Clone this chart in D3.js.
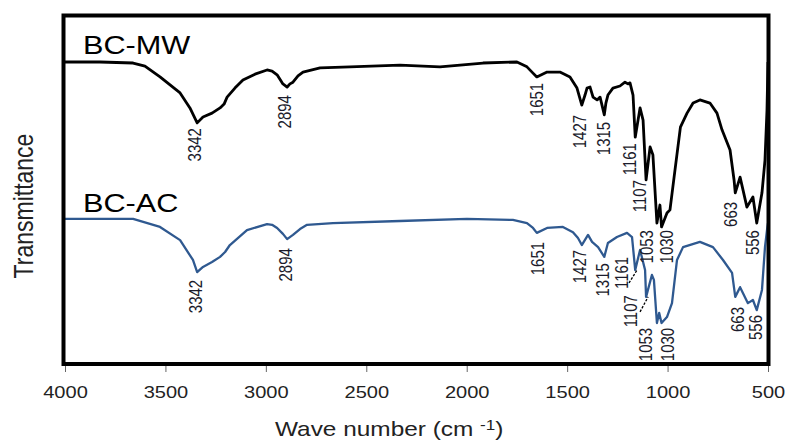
<!DOCTYPE html>
<html><head><meta charset="utf-8">
<script src="https://cdn.jsdelivr.net/npm/d3@7"></script>
<style>body{margin:0;background:#fff} svg{display:block}</style>
</head><body><svg id="c" width="787" height="441"></svg>
<script>
// ---------- data ----------
const seriesNames = ["BC-MW", "BC-AC"];
const xTicks = [4000, 3500, 3000, 2500, 2000, 1500, 1000, 500];
const peaks = [3342, 2894, 1651, 1427, 1315, 1161, 1107, 1053, 1030, 663, 556];

const mwWave = [4000,3826,3661,3602,3527,3427,3378,3342,3313,3268,3228,3208,3193,3154,3114,3054,2994,2969,2944,2915,2894,2880,2865,2840,2815,2730,2581,2332,2133,1919,1750,1700,1670,1651,1600,1536,1486,1451,1427,1411,1401,1386,1371,1351,1336,1315,1307,1297,1272,1237,1212,1197,1187,1172,1161,1137,1122,1107,1087,1073,1053,1038,1030,1003,988,963,936,903,873,839,789,754,729,689,669,663,639,605,575,556,530,515,505,500];
const mwT = [86.5,86.5,86.2,85.3,82.2,77.6,73.3,69.0,70.7,71.8,73.3,74.4,76.4,79.0,81.3,83.0,84.2,83.9,82.8,80.2,79.3,80.2,80.7,82.5,83.6,84.8,85.1,85.6,85.1,86.2,86.5,85.1,83.3,82.2,83.6,83.6,82.2,79.0,74.1,77.0,79.0,79.3,76.4,75.6,76.4,71.3,74.7,77.0,79.0,79.6,80.7,80.2,80.5,77.0,64.9,73.3,69.8,52.6,62.1,59.8,40.2,45.4,39.1,43.1,44.0,55.5,67.8,71.8,74.7,75.6,74.7,71.8,67.0,61.2,52.6,48.9,53.4,44.8,47.7,40.2,48.9,58.3,72.7,86.5];

const acWave = [4000,3661,3527,3427,3363,3342,3313,3268,3228,3203,3179,3094,2994,2969,2944,2915,2894,2865,2830,2795,2666,2332,1999,1770,1700,1670,1651,1600,1521,1471,1446,1427,1396,1376,1346,1315,1297,1252,1202,1177,1161,1137,1112,1107,1078,1068,1053,1042,1030,1003,978,953,923,839,774,724,679,663,639,600,575,556,530,515,503,500];
const acT = [41.4,41.4,39.1,35.3,29.6,26.1,27.6,29.0,30.5,31.9,33.9,38.2,39.9,39.7,38.8,37.1,35.6,36.8,38.5,39.7,40.2,40.8,41.4,41.1,40.2,38.8,37.4,38.8,39.1,37.6,35.9,33.9,36.8,34.8,33.3,30.5,34.5,36.2,37.4,36.2,26.7,32.5,26.7,19.0,25.3,23.9,11.5,14.4,11.5,13.2,17.2,29.6,33.3,34.8,33.3,29.6,25.9,19.0,21.8,17.2,18.1,15.2,21.0,33.3,39.1,40.2];

// ---------- layout ----------
const svg = d3.select("#c");
const SX = 1.18; // horizontal stretch of the text in the reference
const x = d3.scaleLinear().domain([4000, 500]).range([65, 768]);
const y = d3.scaleLinear().domain([0, 100]).range([363, 15]);
const font = "'Liberation Sans', Arial, sans-serif";

// annotation placement (label centre wave number, top of label in transmittance units)
const labelLayout = {
  "BC-MW": {cx: [3353,2905,1650,1436,1316,1187,1137,1102,1003,684,575],
            top: [67.5,77.0,80.5,71.3,69.3,63.2,52.6,38.2,38.2,46.3,38.2]},
  "BC-AC": {cx: [3348,2900,1645,1436,1321,1227,1182,1107,998,649,560],
            top: [23.9,33.0,34.8,32.5,28.7,30.5,19.5,10.1,10.1,16.1,13.8]}
};
const leaders = [[[1192,23.0],[1152,26.7]], [[1137,14.7],[1097,19.0]]];

const line = d3.line().x(d => x(d[0])).y(d => y(d[1]));
const mw = mwWave.map((w, i) => [w, mwT[i]]);
const ac = acWave.map((w, i) => [w, acT[i]]);

svg.append("path").datum(ac).attr("d", line).attr("fill", "none")
  .attr("stroke", "#2f5990").attr("stroke-width", 2.3).attr("stroke-linejoin", "round");
svg.append("path").datum(mw).attr("d", line).attr("fill", "none")
  .attr("stroke", "#000").attr("stroke-width", 2.8).attr("stroke-linejoin", "round");

// peak labels
seriesNames.forEach(name => {
  const L = labelLayout[name];
  peaks.forEach((p, i) => {
    const px = x(L.cx[i]) + 6.3, py = y(L.top[i]);
    svg.append("text")
      .attr("transform", `translate(${px},${py}) scale(${SX},1) rotate(-90)`)
      .attr("text-anchor", "end")
      .attr("font-family", font).attr("font-size", 15).attr("fill", "#1c1c2c")
      .text(p);
  });
});
leaders.forEach(s => {
  svg.append("line")
    .attr("x1", x(s[0][0])).attr("y1", y(s[0][1]))
    .attr("x2", x(s[1][0])).attr("y2", y(s[1][1]))
    .attr("stroke", "#000").attr("stroke-width", 1.3).attr("stroke-dasharray", "2.5,1.5");
});

// series names
[[seriesNames[0], 54], [seriesNames[1], 212]].forEach(([t, by]) => {
  svg.append("text")
    .attr("transform", `translate(83,${by}) scale(${SX},1)`)
    .attr("font-family", font).attr("font-size", 26).attr("fill", "#000")
    .text(t);
});

// x axis
const axis = d3.axisBottom(x).tickValues(xTicks).tickSize(8).tickPadding(0).tickFormat(d3.format("d"));
const gx = svg.append("g").attr("transform", "translate(0,364)").call(axis);
gx.select(".domain").remove();
gx.selectAll(".tick line").attr("stroke", "#666").attr("stroke-width", 1);
gx.selectAll(".tick text")
  .attr("y", null).attr("dy", null)
  .attr("transform", `translate(0,34) scale(${SX},1)`)
  .attr("font-family", font).attr("font-size", 17).attr("fill", "#222");

// frame
svg.append("rect").attr("x", 63.5).attr("y", 15.5).attr("width", 705).attr("height", 348.5)
  .attr("fill", "none").attr("stroke", "#000").attr("stroke-width", 4);

// axis titles
const xt = svg.append("text")
  .attr("transform", `translate(275,436) scale(1.22,1)`)
  .attr("font-family", font).attr("font-size", 20).attr("fill", "#222");
xt.append("tspan").text("Wave number (cm ");
xt.append("tspan").attr("font-size", 14).attr("dy", -6).text("-1");
xt.append("tspan").attr("dy", 6).text(")");

svg.append("text")
  .attr("transform", `translate(33,206) scale(${SX},1) rotate(-90)`)
  .attr("text-anchor", "middle")
  .attr("font-family", font).attr("font-size", 23).attr("fill", "#222")
  .text("Transmittance");
</script></body></html>
